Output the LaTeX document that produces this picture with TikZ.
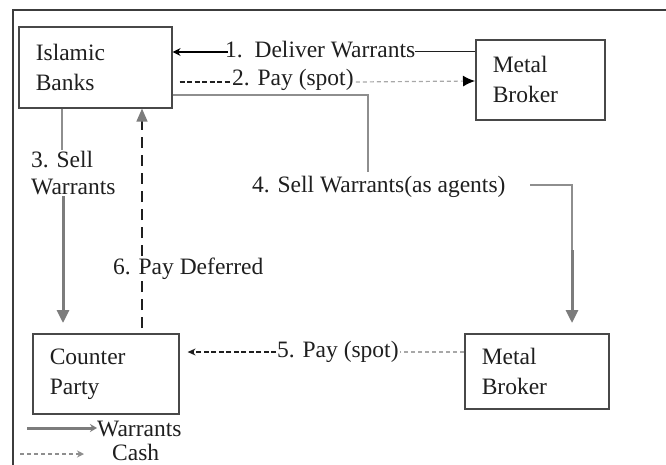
\documentclass[tikz,border=0pt]{standalone}
\usepackage{fontspec}
\setmainfont{Liberation Serif}
\usetikzlibrary{arrows.meta,calc}
\definecolor{boxc}{HTML}{484848}
\definecolor{txtc}{HTML}{1F1F1F}
\definecolor{thinc}{HTML}{8E8E8E}
\definecolor{thickc}{HTML}{7C7C7C}
\definecolor{lightc}{HTML}{A8A8A8}
\definecolor{framec}{HTML}{3C3C3C}
\begin{document}
\begin{tikzpicture}[x=1pt,y=-1pt,
  font=\fontsize{23.5}{30}\selectfont,
  box/.style={draw=boxc, line width=1.6pt, inner xsep=17pt, inner ysep=0pt,
    align=left, text=txtc, anchor=north west},
  lbl/.style={inner sep=0pt, text=txtc, anchor=base west},
  thinline/.style={draw=thinc, line width=1.2pt},
  warrant/.style={draw=thickc, line width=3pt, -{Triangle[length=13pt,width=12pt,color=thickc]}},
  cashdark/.style={draw=txtc, line width=1.2pt, dash pattern=on 5pt off 2.5pt},
  cashlight/.style={draw=lightc, line width=1.2pt, dash pattern=on 4pt off 3pt},
  deferred/.style={draw=txtc, line width=1.4pt, dash pattern=on 11pt off 7pt}]
\useasboundingbox (0,0) rectangle (666,465);
\fill[white] (0,0) rectangle (666,465);
% frame
\draw[framec, line width=2pt] (13,465) -- (13,10) -- (666,10);
% boxes
\node[box, minimum width=153pt, minimum height=81pt, text width=119pt] (ib) at (18,26) {Islamic\\Banks};
\node[box, minimum width=129pt, minimum height=80pt, text width=95pt] (mb1) at (475,39) {Metal\\Broker};
\node[box, minimum width=146pt, minimum height=80pt, text width=112pt] (cp) at (32,333) {Counter\\Party};
\node[box, minimum width=144pt, minimum height=75pt, text width=110pt] (mb2) at (464,333) {Metal\\Broker};
% labels
\node[lbl] (t1) at (225,58) {1.\ \ Deliver Warrants};
\node[lbl] (t2) at (232,86) {2. Pay (spot)};
\node[inner sep=0pt, text=txtc, align=left, anchor=north west, font=\fontsize{23.5}{27}\selectfont] (t3) at (31,151) {3. Sell\\Warrants};
\node[lbl] (t4) at (252,193) {4. Sell Warrants(as agents)};
\node[lbl] (t5) at (277,357) {5. Pay (spot)};
\node[lbl] (t6) at (113,274) {6. Pay Deferred};
\node[lbl] (lw) at (97,436) {Warrants};
\node[lbl] (lc) at (112,460) {Cash};
% 1. deliver warrants
\draw[thinline, draw=txtc, line width=1pt] ($(mb1.north west)+(0,13)$) -- ($(t1.base east)+(0,-6)$);
\draw[draw=black, line width=2.4pt, -{Stealth[length=8pt,width=8pt]}] ($(t1.base west)+(3,-6)$) -- ($(ib.north east)+(0,26)$);
% 2. pay (spot)
\draw[cashdark] ($(ib.north east)+(7,56)$) -- ($(t2.base west)+(-2,-4)$);
\draw[cashlight, -{Latex[length=12pt,width=11pt,color=black]}] ($(t2.base east)+(2,-4)$) -- ($(mb1.north west)+(0,42)$);
% 3. sell warrants
\draw[thinline] ($(ib.south west)+(44,0)$) -- ($(t3.north west)+(31,-1)$);
\draw[warrant, shorten >=10pt] ($(t3.north west)+(32,45)$) -- ($(cp.north west)+(31,0)$);
% 4. sell warrants (as agents)
\coordinate (c4a) at (368,172);
\coordinate (c4b) at (530,185);
\coordinate (c4c) at (572,250);
\draw[thinline] ($(ib.north east)+(0,69)$) -| (c4a);
\draw[thinline] (c4b) -| (c4c);
\draw[warrant, shorten >=10pt] (c4c) -- ($(mb2.north west)+(108,0)$);
% 5. pay (spot)
\draw[cashlight] ($(mb2.north west)+(0,19)$) -- ($(t5.base east)+(1,-5)$);
\draw[cashdark, -{Stealth[length=8pt,width=7pt]}] ($(t5.base west)+(-1,-5)$) -- ($(cp.north east)+(8,19)$);
% 6. pay deferred
\draw[deferred, -{Triangle[length=13pt,width=11pt,color=thickc]}] ($(cp.north west)+(110,-5)$) -- ($(ib.south west)+(124,0)$);
% legend
\coordinate (lw0) at (27,428);
\coordinate (lc0) at (20,454);
\draw[draw=thickc, line width=3pt, -{Stealth[length=7pt,width=8pt,color=thickc]}] (lw0) -- ($(lw.base west)+(0,-8)$);
\draw[cashlight, draw=thinc, -{Stealth[length=7pt,width=7pt,color=thinc]}] (lc0) -- ($(lc.base west)+(-28,-6)$);
\end{tikzpicture}
\end{document}
